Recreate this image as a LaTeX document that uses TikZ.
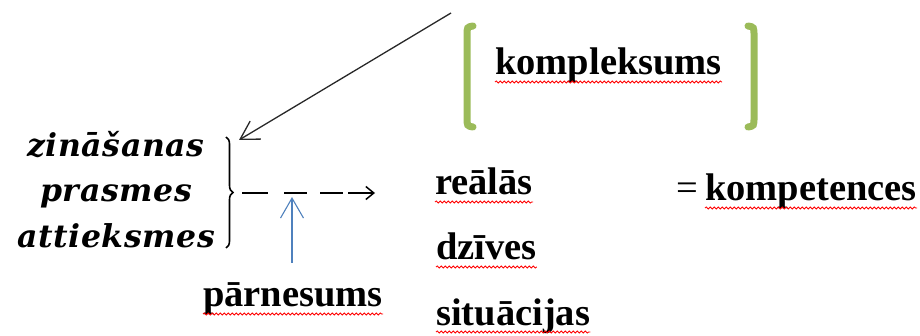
\documentclass[tikz,border=0pt]{standalone}
\usepackage{fontspec}
\setmainfont{Liberation Serif}
\newfontfamily\itfont{DejaVu Serif}[LetterSpace=2]
\usetikzlibrary{arrows.meta,decorations.pathmorphing,decorations.pathreplacing}
\definecolor{brgreen}{RGB}{155,187,89}
\definecolor{arrblue}{RGB}{79,129,189}
\definecolor{arrgray}{RGB}{40,40,40}
\tikzset{
 bw/.style={font=\fontsize{38.5}{42}\selectfont\bfseries, inner sep=0pt, anchor=base west},
 iw/.style={font=\fontsize{31.5}{34}\selectfont\itfont\bfseries\itshape, inner sep=0pt, anchor=base},
 wavy/.style={draw=red, line width=0.8pt, decorate, decoration={snake, segment length=4pt, amplitude=1.1pt}},
 bracket/.style={draw=brgreen, line width=7pt, line cap=round},
}
\begin{document}
\begin{tikzpicture}[x=1pt,y=-1pt]
\useasboundingbox (0,0) rectangle (920,336);
% italic words
\node[iw] (zin) at (116,157) {zināšanas};
\node[iw] (pra) at (116,202) {prasmes};
\node[iw] (att) at (116,248) {attieksmes};
% brace
\coordinate (brTop) at (226,137);
\coordinate (brBot) at (226,248);
\coordinate (brTip) at (234,193);
\draw[line width=1.6pt, decorate, decoration={brace, amplitude=7pt}] (brTop) -- (brBot);
% green bracket and kompleksums
\node[bw] (kompl) at (495,75) {kompleksums};
\draw[bracket] (473,26) .. controls (467,27) .. (467,36) -- (467,117) .. controls (467,126) .. (473,127);
\draw[bracket] (748,26) .. controls (754,27) .. (754,36) -- (754,117) .. controls (754,126) .. (748,127);
% long arrow
\coordinate (src) at (451,13);
\coordinate (tgt) at (239,140);
\draw[arrgray, line width=1.3pt, -{Straight Barb[length=18pt,width=21pt]}] (src) -- (tgt);
% dashed arrow
\coordinate (dashEnd) at (375,193);
\draw[line width=1.5pt, dash pattern=on 26pt off 16pt on 23pt off 13pt on 23pt off 5pt on 40pt, -{Straight Barb[length=8pt,width=13pt]}] ([xshift=8pt]brTip) -- (dashEnd);
% blue arrow
\coordinate (blueStart) at (292,263);
\coordinate (blueTip) at (292,197);
\draw[arrblue, line width=1.1pt, -{Straight Barb[length=20pt,width=23pt]}] (blueStart) -- (blueTip);
% bold words
\node[bw] (parn) at (203,307) {pārnesums};
\node[bw] (real) at (435,195) {reālās};
\node[bw] (dziv) at (436,260) {dzīves};
\node[bw] (situ) at (436,325) {situācijas};
\node[bw, font=\fontsize{38.5}{42}\selectfont\mdseries] (eq) at (676,201) {=};
\node[bw] (kompt) at (705,201) {kompetences};
% spell-check underlines
\foreach \w in {kompl,parn,real,dziv,situ,kompt}{
  \draw[wavy] ([yshift=-7pt]\w.base west) -- ([yshift=-7pt]\w.base east);
}
\end{tikzpicture}
\end{document}
